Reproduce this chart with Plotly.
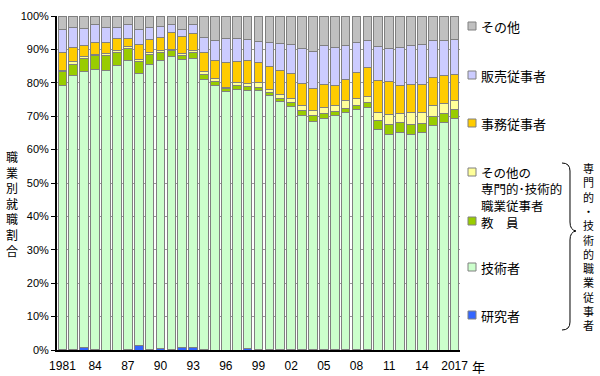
import plotly.graph_objects as go

years = list(range(1981, 2018))

research = [0.3, 0.2, 0.8, 0.3, 0.0, 0.0, 0.3, 1.2, 0.3, 0.5, 0.3, 0.7, 0.7, 0.3, 0.0, 0.0, 0.0, 0.4, 0.3,
            0.3, 0.3, 0.3, 0.3, 0.3, 0.3, 0.3, 0.3, 0.3, 0.3, 0.0, 0.0, 0.0, 0.0, 0.0, 0.0, 0.0, 0.0]
engineers = [79.0, 82.1, 82.7, 83.7, 83.8, 85.1, 86.3, 81.6, 85.3, 86.1, 87.5, 86.3, 86.6, 80.7, 79.1, 77.3, 78.0, 77.4, 77.3,
             75.8, 74.0, 72.6, 69.8, 68.1, 69.1, 69.8, 70.8, 71.6, 72.2, 65.9, 64.4, 65.2, 64.4, 65.2, 67.2, 68.1, 69.4]
teachers = [4.2, 3.3, 3.8, 4.1, 4.3, 3.9, 3.8, 3.5, 3.0, 2.4, 1.8, 1.3, 1.7, 1.5, 1.4, 0.9, 1.2, 1.1, 1.0,
            1.0, 1.1, 1.3, 1.5, 1.7, 1.4, 1.3, 1.3, 1.4, 1.5, 2.7, 3.0, 2.9, 3.0, 2.7, 2.7, 2.7, 2.5]
other_pro = [0.3, 0.7, 0.7, 0.4, 0.7, 0.6, 0.6, 0.7, 0.5, 0.8, 0.5, 0.5, 0.6, 0.8, 0.8, 0.4, 0.9, 0.9, 1.4,
             0.9, 1.1, 1.2, 1.5, 1.5, 1.7, 1.7, 2.2, 2.0, 1.8, 2.5, 3.0, 2.7, 3.7, 3.2, 3.2, 3.1, 2.7]
clerical = [5.2, 4.3, 3.2, 3.7, 3.3, 3.6, 2.3, 4.6, 4.0, 3.8, 5.0, 5.0, 5.2, 5.9, 5.3, 7.4, 6.2, 6.8, 6.1,
            6.9, 7.1, 7.4, 6.7, 6.7, 7.1, 6.2, 6.4, 7.9, 8.7, 9.7, 9.9, 8.5, 8.5, 8.5, 8.4, 8.3, 8.0]
sales = [7.1, 6.0, 5.1, 5.2, 4.4, 3.3, 4.2, 4.4, 3.5, 3.4, 2.4, 2.3, 2.7, 4.4, 6.2, 7.3, 7.0, 6.5, 6.4,
         7.1, 8.2, 8.7, 10.5, 11.0, 11.5, 11.2, 10.3, 8.9, 8.3, 10.0, 10.0, 11.3, 11.7, 11.9, 11.1, 10.4, 10.4]
others = [3.9, 3.4, 3.7, 2.6, 3.5, 3.5, 2.5, 4.0, 3.4, 3.0, 2.5, 3.9, 2.5, 6.4, 7.2, 6.7, 6.7, 6.9, 7.5,
          8.0, 8.2, 8.5, 9.7, 10.7, 8.9, 9.5, 8.7, 7.9, 7.2, 9.2, 9.7, 9.4, 8.7, 8.5, 7.4, 7.4, 7.0]

series_names = ["研究者", "技術者", "教　員", "その他の専門的・技術的職業従事者", "事務従事者", "販売従事者", "その他"]
series_values = [research, engineers, teachers, other_pro, clerical, sales, others]
series_colors = ["#3366ff", "#ccffcc", "#99cc00", "#ffff99", "#ffcc00", "#ccccff", "#c0c0c0"]

tick_years = [1981, 1984, 1987, 1990, 1993, 1996, 1999, 2002, 2005, 2008, 2011, 2014, 2017]
tick_text = ["1981", "84", "87", "90", "93", "96", "99", "02", "05", "08", "11", "14", "2017"]
y_ticks = list(range(0, 101, 10))
y_tick_text = [f"{v}%" for v in y_ticks]

FONT = "Arial, Liberation Sans, Noto Sans CJK JP, sans-serif"
JFONT = "Noto Sans CJK JP, sans-serif"

# plot area geometry in pixels
L, R, T, B = 57, 460, 16, 350


def px(x):
    return (x - L) / (R - L)


def py(y):
    return (B - y) / (B - T)


fig = go.Figure()
for name, vals, col in zip(series_names, series_values, series_colors):
    fig.add_trace(go.Bar(x=years, y=vals, name=name, marker=dict(color=col, line=dict(color="#808080", width=1)),
                         showlegend=False))

shapes = []
annotations = []

# custom legend: (label, colour, square centre y, text centre y, font size)
legend_rows = [
    ("その他", "#c0c0c0", 26, 26, 13),
    ("販売従事者", "#ccccff", 75, 75, 13),
    ("事務従事者", "#ffcc00", 123, 123, 13),
    ("その他の<br>専門的･技術的<br>職業従事者", "#ffff99", 172, 189, 12.5),
    ("教　員", "#99cc00", 221, 222, 12.5),
    ("技術者", "#ccffcc", 267, 267, 13),
    ("研究者", "#3366ff", 315, 315, 13),
]
for label, col, ys, yt, fs in legend_rows:
    shapes.append(dict(type="rect", xref="paper", yref="paper",
                       x0=px(468), x1=px(476), y0=py(ys + 4), y1=py(ys - 4),
                       fillcolor=col, line=dict(color="#808080", width=1)))
    annotations.append(dict(x=px(479), y=py(yt), xref="paper", yref="paper", text=label, showarrow=False,
                            xanchor="left", yanchor="middle", align="left",
                            font=dict(family=JFONT, size=fs, color="black")))


# brace
def pt(x, y):
    return f"{px(x):.5f},{py(y):.5f}"


brace = (f"M {pt(562,163)} Q {pt(570,163)} {pt(570,171)} L {pt(570,222)} "
         f"Q {pt(570,230)} {pt(576,231)} Q {pt(570,232)} {pt(570,240)} L {pt(570,322)} "
         f"Q {pt(570,330)} {pt(562,330)}")
shapes.append(dict(type="path", xref="paper", yref="paper", path=brace, line=dict(color="black", width=1)))

vert = "専門的・技術的職業従事者"
annotations.append(dict(x=px(588), y=py(247), xref="paper", yref="paper", text="<br>".join(vert), showarrow=False,
                        xanchor="center", yanchor="middle", font=dict(family=JFONT, size=11, color="black")))

ytitle = "職業別就職割合"
annotations.append(dict(x=px(12), y=py(203), xref="paper", yref="paper", text="<br>".join(ytitle), showarrow=False,
                        xanchor="center", yanchor="middle", font=dict(family=JFONT, size=12, color="black")))

annotations.append(dict(x=px(479), y=py(366), xref="paper", yref="paper", text="年", showarrow=False,
                        xanchor="center", yanchor="middle", font=dict(family=JFONT, size=13, color="black")))

fig.update_layout(
    width=600, height=376,
    margin=dict(l=L, r=600 - R, t=T, b=376 - B, autoexpand=False),
    barmode="stack", bargap=0.2,
    plot_bgcolor="white", paper_bgcolor="white",
    font=dict(family=FONT, size=12, color="black"),
    shapes=shapes, annotations=annotations,
    xaxis=dict(range=[1980.5, 2017.5], tickmode="array", tickvals=tick_years, ticktext=tick_text,
               showline=True, linecolor="black", linewidth=2, ticks="", showgrid=False, ticklabelstandoff=4,
               tickfont=dict(size=12, family=FONT), zeroline=False, fixedrange=True, automargin=False),
    yaxis=dict(range=[0, 100], tickmode="array", tickvals=y_ticks, ticktext=y_tick_text,
               showline=True, linecolor="black", linewidth=2, ticks="outside", ticklen=4, tickcolor="black",
               showgrid=True, gridcolor="#999999", gridwidth=1, zeroline=False,
               tickfont=dict(size=11, family=FONT), fixedrange=True, automargin=False),
)

fig.write_html("out.html", config={"displayModeBar": False},
               post_script="document.body.style.margin='0';document.body.style.padding='0';")
